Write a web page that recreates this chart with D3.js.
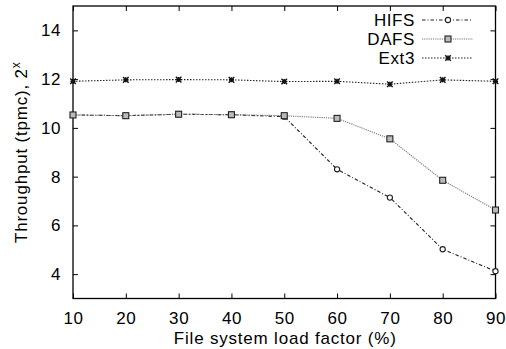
<!DOCTYPE html>
<html><head><meta charset="utf-8">
<script src="https://cdn.jsdelivr.net/npm/d3@7"></script>
<style>body{margin:0;background:#fff}svg{display:block}text{font-family:"Liberation Sans",Arial,sans-serif}</style>
</head><body><svg id="c" width="506" height="349"></svg>
<script>
const loadFactors = [10,20,30,40,50,60,70,80,90];
const hifs = [10.53,10.50,10.56,10.54,10.46,8.30,7.14,5.02,4.12];
const dafs = [10.53,10.50,10.56,10.54,10.50,10.39,9.55,7.85,6.63];
const ext3 = [11.91,11.97,11.98,11.97,11.90,11.91,11.79,11.97,11.91];
const seriesNames = ["HIFS","DAFS","Ext3"];
const xTicks = [10,20,30,40,50,60,70,80,90];
const yTicks = [4,6,8,10,12,14];

const svg = d3.select("#c");
const L=73, R=495.5, T=6, B=298.5;
const x = d3.scaleLinear().domain([10,90]).range([L,R]);
const y = d3.scaleLinear().domain([3,15]).range([B,T]);
const fs = 17;
const ls = "0.6px";

const styles = [
  {data:hifs, stroke:"#222", dash:"3.5,2,1,2", sym:"circle"},
  {data:dafs, stroke:"#777", dash:"1.2,1", sym:"square"},
  {data:ext3, stroke:"#222", dash:"1.5,1.5", sym:"star"}
];

// frame
svg.append("rect").attr("x",L).attr("y",T).attr("width",R-L).attr("height",B-T)
  .attr("fill","none").attr("stroke","#000").attr("stroke-width",1.3);

// axes with inward ticks
const gx = svg.append("g").attr("transform",`translate(0,${B})`)
  .call(d3.axisBottom(x).tickValues(xTicks).tickSize(-5).tickPadding(13).tickFormat(d3.format("d")));
const gxt = svg.append("g").attr("transform",`translate(0,${T})`)
  .call(d3.axisTop(x).tickValues(xTicks).tickSize(-5).tickFormat(""));
const gy = svg.append("g").attr("transform",`translate(${L},0)`)
  .call(d3.axisLeft(y).tickValues(yTicks).tickSize(-5).tickPadding(12).tickFormat(d3.format("d")));
const gyr = svg.append("g").attr("transform",`translate(${R},0)`)
  .call(d3.axisRight(y).tickValues(yTicks).tickSize(-5).tickFormat(""));
[gx,gxt,gy,gyr].forEach(g=>{
  g.select(".domain").remove();
  g.selectAll(".tick line").attr("stroke","#000").attr("stroke-width",1);
  g.selectAll("text").attr("font-size",fs).attr("fill","#000").attr("letter-spacing",ls)
    .attr("font-family","Liberation Sans, Arial, sans-serif");
});
gx.selectAll("text").attr("dy","0.71em");

// axis titles
svg.append("text").attr("x",(L+R)/2+1).attr("y",343.5).attr("text-anchor","middle")
  .attr("font-size",fs).attr("letter-spacing","0.8px").text("File system load factor (%)");
const yl = svg.append("text").attr("transform",`translate(27,${(T+B)/2}) rotate(-90)`)
  .attr("text-anchor","middle").attr("font-size",fs).attr("letter-spacing","0.8px");
yl.append("tspan").text("Throughput (tpmc), 2");
yl.append("tspan").attr("dy",-7).attr("font-size",12).text("x");

function drawSym(g, type, cx, cy, color){
  if(type==="circle"){
    g.append("circle").attr("cx",cx).attr("cy",cy).attr("r",2.6).attr("fill","#fff").attr("stroke","#222").attr("stroke-width",1.1);
  } else if(type==="square"){
    g.append("rect").attr("x",cx-3).attr("y",cy-3).attr("width",6).attr("height",6).attr("fill","#bbb").attr("stroke","#222").attr("stroke-width",1.1);
  } else {
    g.append("path").attr("transform",`translate(${cx},${cy})`)
      .attr("d",d3.symbol().type(d3.symbolTimes).size(22)()).attr("stroke","#111").attr("stroke-width",1.4).attr("fill","none");
    g.append("path").attr("transform",`translate(${cx},${cy})`)
      .attr("d",d3.symbol().type(d3.symbolCross).size(14)()).attr("fill","#111");
  }
}

const line = d3.line().x((d,i)=>x(loadFactors[i])).y(d=>y(d));
styles.forEach(s=>{
  svg.append("path").datum(s.data).attr("d",line).attr("fill","none")
    .attr("stroke",s.stroke).attr("stroke-width",1.1).attr("stroke-dasharray",s.dash);
});
styles.forEach(s=>{
  const g = svg.append("g");
  s.data.forEach((v,i)=>drawSym(g,s.sym,x(loadFactors[i]),y(v),s.stroke));
});

// legend
const legY = [20,39,58];
seriesNames.forEach((n,i)=>{
  const s = styles[i];
  svg.append("text").attr("x",415).attr("y",legY[i]).attr("dy","0.35em").attr("text-anchor","end")
    .attr("font-size",fs).attr("letter-spacing",ls).text(n);
  svg.append("line").attr("x1",422).attr("x2",473).attr("y1",legY[i]).attr("y2",legY[i])
    .attr("stroke",s.stroke).attr("stroke-width",1.1).attr("stroke-dasharray",s.dash);
  drawSym(svg,s.sym,448,legY[i],s.stroke);
});
</script></body></html>
